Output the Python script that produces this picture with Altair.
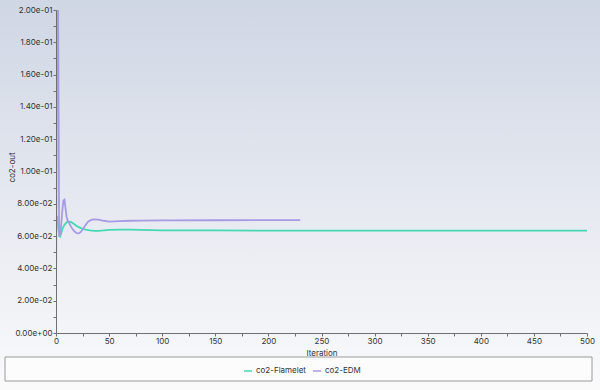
import altair as alt
import pandas as pd

# ---- data ----
edm_iter = [0, 1, 2, 3, 4, 5, 6, 7, 8, 9, 10, 11, 12, 14, 16, 18, 20, 22, 24, 26, 28, 30, 33, 36, 40, 45, 50, 60, 70, 80, 100, 150, 200, 230]
edm_val = [0.010, 0.200, 0.200, 0.0595, 0.062, 0.068, 0.076, 0.082, 0.0825, 0.077, 0.072, 0.0695, 0.0685, 0.066, 0.064, 0.0625, 0.0617, 0.0618, 0.063, 0.065, 0.067, 0.0688, 0.0700, 0.0704, 0.0702, 0.0695, 0.0690, 0.0693, 0.0695, 0.0696, 0.0697, 0.0698, 0.0699, 0.0699]

fl_iter = [1, 2, 3, 4, 5, 6, 8, 10, 12, 14, 16, 18, 20, 24, 28, 32, 36, 40, 50, 60, 70, 80, 100, 150, 200, 300, 400, 500]
fl_val = [0.0725, 0.066, 0.061, 0.060, 0.062, 0.0645, 0.067, 0.0685, 0.069, 0.0688, 0.068, 0.067, 0.066, 0.0648, 0.064, 0.0635, 0.0632, 0.0632, 0.0638, 0.064, 0.064, 0.0638, 0.0636, 0.0635, 0.0634, 0.0634, 0.0634, 0.0634]

series_names = ["co2-Flamelet", "co2-EDM"]
series_colors = ["#45d8b2", "#a69ce4"]

x_ticks = list(range(0, 501, 25))
y_ticks = [round(i * 0.01, 2) for i in range(21)]

df = pd.concat([
    pd.DataFrame({"Iteration": fl_iter, "value": fl_val, "series": series_names[0]}),
    pd.DataFrame({"Iteration": edm_iter, "value": edm_val, "series": series_names[1]}),
])

FONT = "Inter"
W, H = 531, 323

one = pd.DataFrame({"a": [0]})

background = alt.Chart(one).mark_rect(
    fill=alt.Gradient(
        gradient="linear",
        stops=[alt.GradientStop(color="#cfd6e4", offset=0),
               alt.GradientStop(color="#fafafb", offset=1)],
        x1=0, x2=0, y1=0, y2=1,
    ),
    clip=False,
).encode(x=alt.value(-56), x2=alt.value(544), y=alt.value(-10), y2=alt.value(380))

legend_box = alt.Chart(one).mark_rect(
    fill="#fcfcfd", stroke="#9a9a9a", strokeWidth=1, clip=False
).encode(x=alt.value(-51), x2=alt.value(536), y=alt.value(347), y2=alt.value(371))

lines = alt.Chart(df).mark_line(strokeWidth=1.8, clip=True).encode(
    x=alt.X("Iteration:Q",
            scale=alt.Scale(domain=[0, 500], nice=False, zero=False),
            axis=alt.Axis(values=x_ticks, title="Iteration",
                          labelExpr="datum.value % 50 == 0 ? datum.label : ''",
                          grid=False, labelFlush=False, tickSize=3, labelPadding=1,
                          domainColor="#707070", tickColor="#707070",
                          labelColor="#333333", titleColor="#333333",
                          labelFont=FONT, titleFont=FONT, labelFontSize=8,
                          titleFontSize=8, titleFontWeight="normal",
                          titlePadding=4, zindex=1)),
    y=alt.Y("value:Q",
            scale=alt.Scale(domain=[0, 0.2], nice=False, zero=False),
            axis=alt.Axis(values=y_ticks, title="co2-out",
                          labelExpr="round(datum.value*100) % 2 == 0 ? replace(replace(format(datum.value, '.2e'), 'e-', 'e-0'), 'e+', 'e+0') : ''",
                          grid=False, labelFlush=False, tickSize=3, labelPadding=1,
                          domainColor="#707070", tickColor="#707070",
                          labelColor="#333333", titleColor="#333333",
                          labelFont=FONT, titleFont=FONT, labelFontSize=8,
                          titleFontSize=8, titleFontWeight="normal",
                          titleAngle=-90, titleX=-44, titleY=157,
                          titleAlign="center", titleBaseline="middle", zindex=1)),
    color=alt.Color("series:N",
                    scale=alt.Scale(domain=series_names, range=series_colors),
                    legend=alt.Legend(orient="none", legendX=187, legendY=356,
                                      direction="horizontal", title=None,
                                      symbolType="stroke", symbolSize=64,
                                      symbolStrokeWidth=1.5, labelFont=FONT,
                                      labelFontSize=8, labelColor="#333333",
                                      labelOffset=3, columnPadding=4, padding=0)),
    order=alt.Order("Iteration:Q"),
)

chart = alt.layer(background, legend_box, lines).properties(
    width=W, height=H,
    autosize=alt.AutoSizeParams(type="none"),
    padding={"left": 56, "top": 10, "right": 13, "bottom": 57},
).configure(background="#ffffff").configure_view(stroke=None)

chart.save("out.html", embed_options={"renderer": "svg", "actions": False})
